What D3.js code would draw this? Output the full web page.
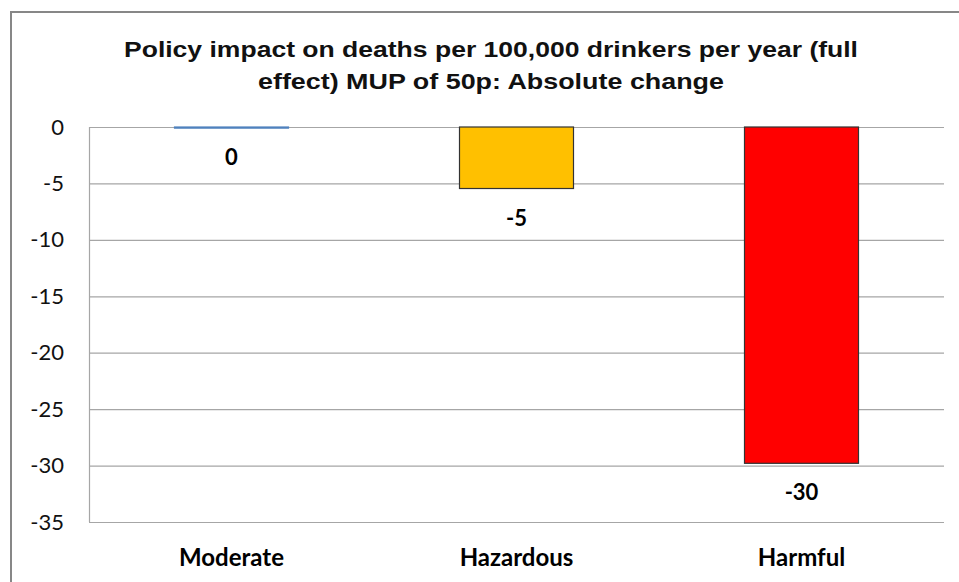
<!DOCTYPE html>
<html><head><meta charset="utf-8">
<script src="https://cdn.jsdelivr.net/npm/d3@7"></script>
<style>body{margin:0;background:#fff;} svg{display:block;}</style>
</head><body>
<svg id="c" width="959" height="582"></svg>
<script>
const titleLines = ["Policy impact on deaths per 100,000 drinkers per year (full", "effect) MUP of 50p: Absolute change"];
const categories = ["Moderate", "Hazardous", "Harmful"];
const values = [-0.1, -5.45, -29.8];
const colors = ["#4F81BD", "#FFC000", "#FF0000"];
const yTicks = [0, -5, -10, -15, -20, -25, -30, -35];

const svg = d3.select("#c");
const W = 959, H = 582;
const m = {left: 89, right: 15, top: 127, bottom: 60};
const fmt = v => String(Math.round(v) || 0).replace("\u2212", "-");

// outer chart border
svg.append("rect").attr("x", 11).attr("y", 12).attr("width", W).attr("height", H)
  .attr("fill", "none").attr("stroke", "#878787").attr("stroke-width", 2);

const titleLens = [734, 466];
titleLines.forEach((t, i) => svg.append("text").attr("text-anchor", "middle")
  .attr("font-family", "Liberation Sans, Arial, sans-serif").attr("font-weight", "bold")
  .attr("font-size", 22).attr("fill", "#111")
  .attr("x", 491).attr("y", 57 + i * 32)
  .attr("textLength", titleLens[i]).attr("lengthAdjust", "spacingAndGlyphs")
  .text(t));

const x = d3.scaleBand().domain(categories).range([m.left, 944]).paddingInner(0.6).paddingOuter(0.3);
const y = d3.scaleLinear().domain([-35, 0]).range([522, 127]);

// gridlines
svg.append("g").selectAll("line").data(yTicks).join("line")
  .attr("x1", m.left).attr("x2", 944).attr("y1", d => y(d) + 0.5).attr("y2", d => y(d) + 0.5)
  .attr("stroke", "#a6a6a6").attr("stroke-width", 1.2);
// left axis line
svg.append("line").attr("x1", m.left + 0.5).attr("x2", m.left + 0.5).attr("y1", y(0)).attr("y2", y(-35))
  .attr("stroke", "#a6a6a6").attr("stroke-width", 1.2);

// y axis labels
const yAxis = d3.axisLeft(y).tickValues(yTicks).tickSize(0).tickPadding(25).tickFormat(fmt);
const ga = svg.append("g").attr("transform", `translate(${m.left},0)`).call(yAxis);
ga.select(".domain").remove();
ga.selectAll("text").attr("font-family", "Lato, sans-serif").attr("font-size", 22).attr("fill", "#111");

// bars
svg.append("g").selectAll("rect").data(values).join("rect")
  .attr("x", (d, i) => x(categories[i]))
  .attr("width", x.bandwidth())
  .attr("y", y(0))
  .attr("height", d => Math.max(1, y(d) - y(0)))
  .attr("fill", (d, i) => colors[i])
  .attr("stroke", (d, i) => i === 0 ? colors[i] : "#333")
  .attr("stroke-width", 1.2);

// data labels
svg.append("g").selectAll("text").data(values).join("text")
  .attr("x", (d, i) => x(categories[i]) + x.bandwidth() / 2)
  .attr("y", d => y(d) + 37)
  .attr("text-anchor", "middle")
  .attr("font-family", "Lato, sans-serif").attr("font-weight", "bold").attr("font-size", 22)
  .attr("fill", "#000")
  .text(fmt);

// category labels
const xAxis = d3.axisBottom(x).tickSize(0).tickPadding(0);
const gx = svg.append("g").attr("transform", `translate(0,${y(-35)})`).call(xAxis);
gx.select(".domain").remove();
gx.selectAll("text").attr("dy", null).attr("y", 44)
  .attr("font-family", "Lato, sans-serif").attr("font-weight", "bold").attr("font-size", 24).attr("fill", "#000");
</script>
</body></html>
